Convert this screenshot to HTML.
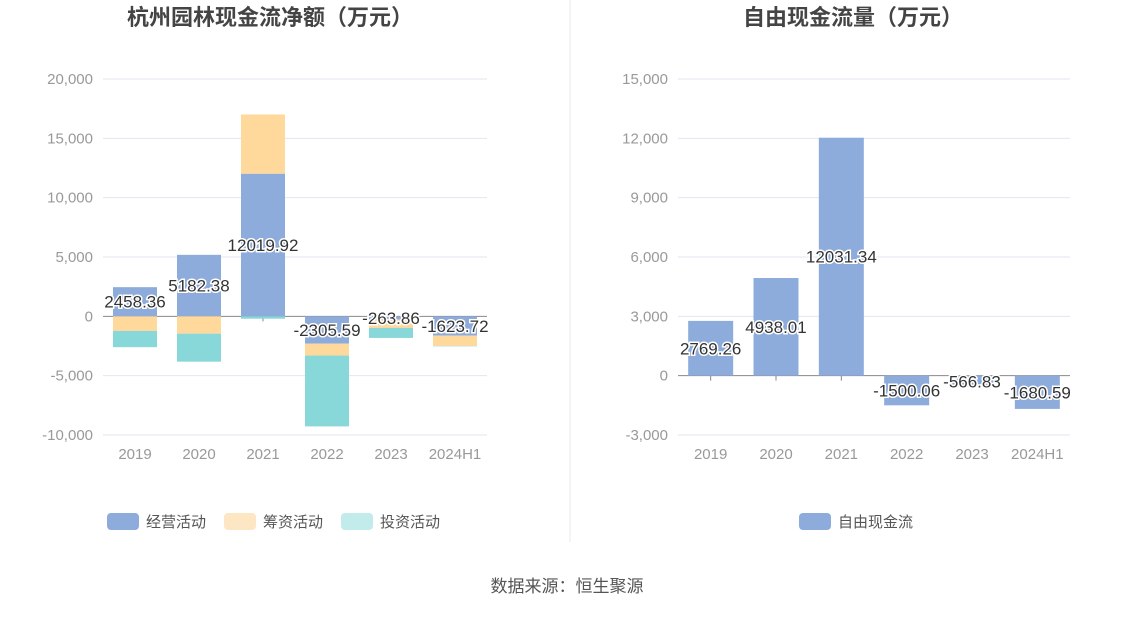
<!DOCTYPE html>
<html><head><meta charset="utf-8">
<style>
body{margin:0;background:#fff;width:1134px;height:612px;overflow:hidden;font-family:"Liberation Sans","Noto Sans CJK SC",sans-serif;}
svg text{font-family:"Liberation Sans","Noto Sans CJK SC",sans-serif;}
</style></head>
<body>
<svg id="c" width="1134" height="612">
<text x="270" y="25" text-anchor="middle" font-size="22" font-weight="bold" fill="#444">杭州园林现金流净额（万元）</text>
<text x="853" y="25" text-anchor="middle" font-size="22" font-weight="bold" fill="#444">自由现金流量（万元）</text>
<line x1="570" y1="0" x2="570" y2="542" stroke="#e8e8e8"/>
<text x="567" y="592" text-anchor="middle" font-size="17" fill="#555">数据来源：恒生聚源</text>
<g id="L"></g><g id="R"></g>
<g>
<rect x="107" y="513" width="32" height="17" rx="4" fill="#8eacdb"/>
<text x="146" y="527" font-size="15" fill="#555">经营活动</text>
<rect x="224" y="513" width="32" height="17" rx="4" fill="#fde6c4"/>
<text x="263" y="527" font-size="15" fill="#555">筹资活动</text>
<rect x="341" y="513" width="32" height="17" rx="4" fill="#c2ebeb"/>
<text x="380" y="527" font-size="15" fill="#555">投资活动</text>
</g>
<g>
<rect x="799" y="513" width="32" height="17" rx="4" fill="#8eacdb"/>
<text x="838" y="527" font-size="15" fill="#555">自由现金流</text>
</g>
</svg>
<script>
const categories=["2019","2020","2021","2022","2023","2024H1"];
const operating=[2458.36,5182.38,12019.92,-2305.59,-263.86,-1623.72];
const financing=[-1230,-1460,4990,-1000,-716,-870];
const investing=[-1370,-2360,-200,-5970,-840,-30];
const leftTicks=[20000,15000,10000,5000,0,-5000,-10000];
const fcf=[2769.26,4938.01,12031.34,-1500.06,-566.83,-1680.59];
const rightTicks=[15000,12000,9000,6000,3000,0,-3000];
const NS="http://www.w3.org/2000/svg";
function mk(p,tag,a){const e=document.createElementNS(NS,tag);for(const k in a)e.setAttribute(k,a[k]);p.appendChild(e);return e;}
function fmt(v){return v.toLocaleString('en-US');}
function axis(g,x0,x1,ticks,yTop,yBot,name){
  const max=ticks[0],min=ticks[ticks.length-1];
  const y=v=>yTop+(max-v)/(max-min)*(yBot-yTop);
  ticks.forEach(t=>{
    const l=mk(g,'line',{x1:x0,x2:x1,y1:y(t),y2:y(t),stroke:t===0?'#888':'#e0e6f1'});
    
    
    const tx=mk(g,'text',{x:x0-10,y:y(t)+5,'text-anchor':'end','font-size':15,fill:'#999'});
    tx.textContent=fmt(t);
    
    
  });
  const bw=(x1-x0)/categories.length;
  const xc=i=>x0+bw*(i+0.5);
  categories.forEach((c,i)=>{
    const tx=mk(g,'text',{x:xc(i),y:yBot+24,'text-anchor':'middle','font-size':15,fill:'#999'});
    tx.textContent=c;
    
    
    const tk=mk(g,'line',{x1:xc(i),x2:xc(i),y1:y(0),y2:y(0)+5,stroke:'#888'});
    
    
  });
  return {y,xc,bw};
}
function label(g,x,yy,v,name){
  const t=mk(g,'text',{x:x,y:yy+6,'text-anchor':'middle','font-size':17,fill:'#333',stroke:'#fff','stroke-width':3,'paint-order':'stroke'});
  t.textContent=v.toFixed(2);
  
  
}
const gL=document.getElementById('L');
const A=axis(gL,103,487,leftTicks,79,435,'left');
const series=[[operating,'#8eacdb','operating'],[financing,'#ffd89b','financing'],[investing,'#88d7d9','investing']];
const bars=mk(gL,'g',{});const labs=mk(gL,'g',{});
categories.forEach((c,i)=>{
  let pos=0,neg=0;const bw=44;
  series.forEach(([arr,col,nm])=>{
    const v=arr[i];let a,b;
    if(v>=0){a=pos;b=pos+v;pos=b;}else{a=neg;b=neg+v;neg=b;}
    const y1=A.y(Math.max(a,b)),y2=A.y(Math.min(a,b));
    const r=mk(bars,'rect',{x:A.xc(i)-bw/2,y:y1,width:bw,height:Math.max(0,y2-y1),fill:col});
    
    
  });
  label(labs,A.xc(i),A.y(operating[i]/2),operating[i],'label-operating-'+c);
});
const gR=document.getElementById('R');
const B=axis(gR,678,1070,rightTicks,79,435,'right');
const bR=mk(gR,'g',{});const lR=mk(gR,'g',{});
categories.forEach((c,i)=>{
  const v=fcf[i],bw=45;
  const y1=B.y(Math.max(0,v)),y2=B.y(Math.min(0,v));
  const r=mk(bR,'rect',{x:B.xc(i)-bw/2,y:y1,width:bw,height:y2-y1,fill:'#8eacdb'});
  
  
  label(lR,B.xc(i),B.y(v/2),v,'label-fcf-'+c);
});
</script>
</body></html>
